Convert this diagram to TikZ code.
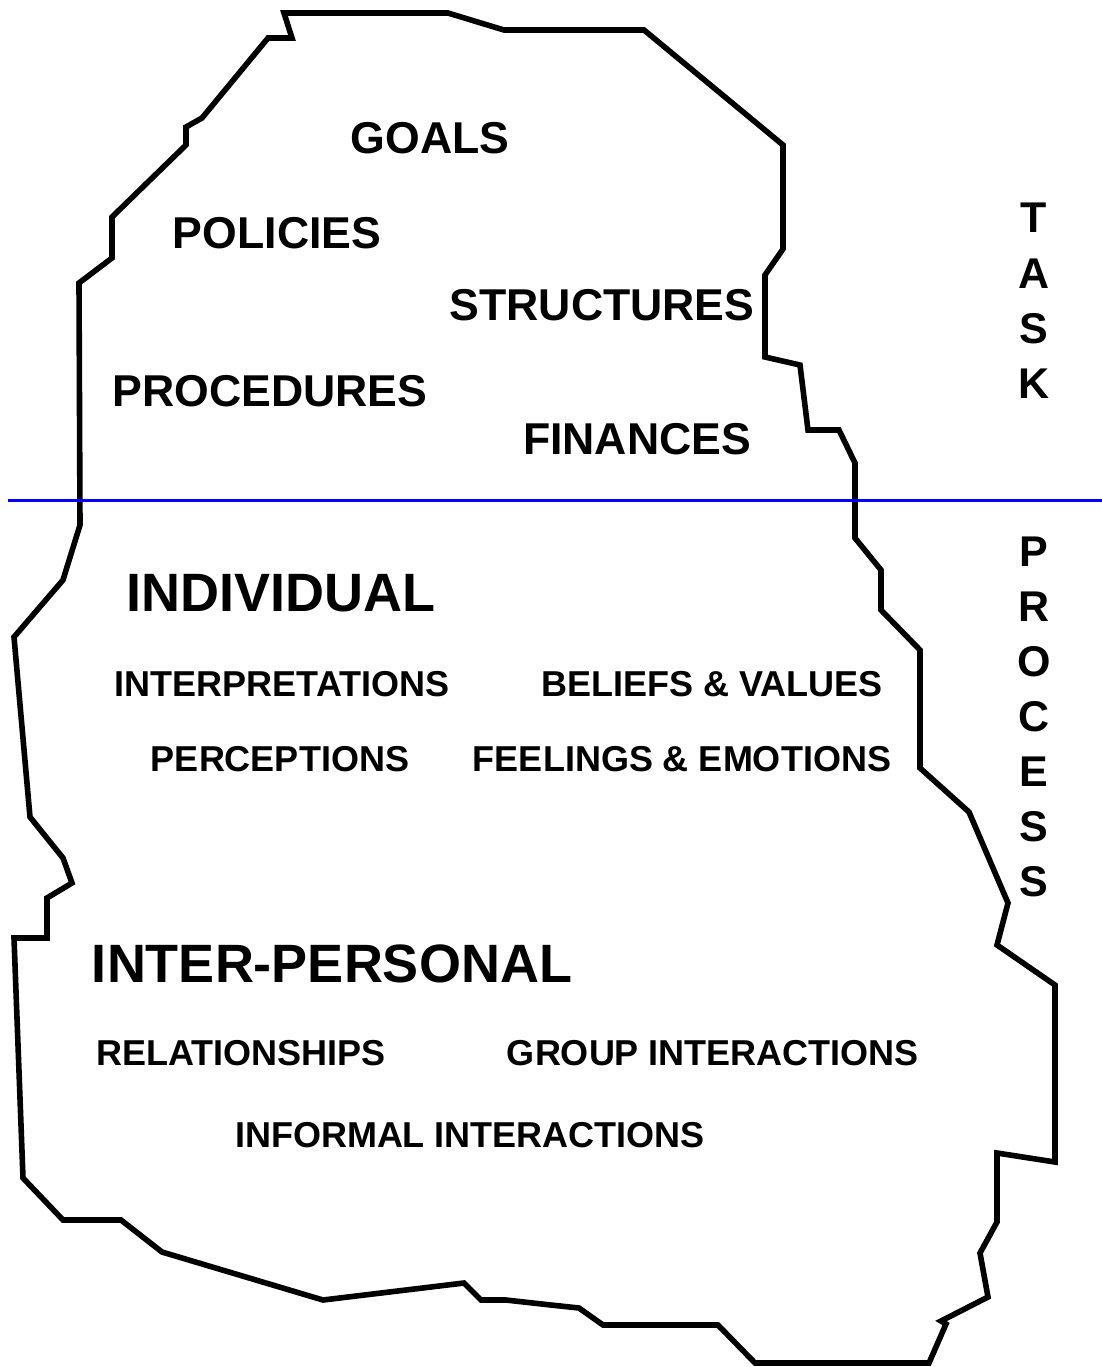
\documentclass[tikz,border=0pt]{standalone}
\usepackage{fontspec}
\setmainfont{Liberation Sans}
\usetikzlibrary{calc}

\tikzset{
  small/.style={font=\fontsize{22.3}{26}\selectfont\bfseries, inner sep=0pt},
  big/.style={font=\fontsize{27}{32}\selectfont\bfseries, inner sep=0pt},
  tiny/.style={font=\fontsize{18}{21}\selectfont\bfseries, inner sep=0pt},
  side/.style={align=center, inner sep=0pt}
}

\begin{document}
\begin{tikzpicture}[x=0.5pt, y=-0.5pt]
    \useasboundingbox (0,0) rectangle (1102,1367);

    % the iceberg
    \draw [line width=2.8pt] (284,13) -- (448,13) -- (504,30) -- (644,30) -- (783,145) -- (783,249)
      -- (765,275) -- (765,357) -- (800,365) -- (808,430) -- (839,430) -- (855,463) -- (855,538)
      -- (881,570) -- (881,610) -- (920,650) -- (920,768) -- (969,812) -- (1008,903) -- (997,945)
      -- (1055,985) -- (1055,1162) -- (997,1153) -- (997,1222) -- (980,1253) -- (988,1297)
      -- (941,1321) -- (946,1324) -- (929,1363) -- (755,1363) -- (718,1325) -- (603,1325)
      -- (579,1308) -- (551,1305) -- (506,1300) -- (481,1300) -- (464,1283) -- (323,1300)
      -- (162,1252) -- (121,1220) -- (63,1220) -- (23,1178) -- (14,938) -- (47,938) -- (47,898)
      -- (72,883) -- (63,858) -- (30,817) -- (14,637) -- (63,580) -- (80,525) -- (79,283)
      -- (112,258) -- (112,217) -- (186,145) -- (186,127) -- (202,118) -- (268,38) -- (292,38) -- cycle;

    % water line
    \coordinate (wl) at (8,500);
    \coordinate (wr) at (1102,500);
    \draw [color=blue, line width=1.5pt] (wl) -- (wr);

    % task
    \node [small] (goals) at (430,138) {GOALS};
    \node [small] (policies) at (277,233) {POLICIES};
    \node [small] (structures) at (602,305) {STRUCTURES};
    \node [small] (procedures) at (270,391) {PROCEDURES};
    \node [small] (finances) at (637,439) {FINANCES};

    % process
    \node [big] (individual) at (281,593) {INDIVIDUAL};
    \node [tiny] (interpretations) at (282,684) {INTERPRETATIONS};
    \node [tiny] (beliefs) at (712,684) {BELIEFS \& VALUES};
    \node [tiny] (perceptions) at (280,759) {PERCEPTIONS};
    \node [tiny] (feelings) at (682,759) {FEELINGS \& EMOTIONS};
    \node [big] (interpersonal) at (332,964) {INTER-PERSONAL};
    \node [tiny] (relationships) at (241,1053) {RELATIONSHIPS};
    \node [tiny] (group) at (713,1053) {GROUP INTERACTIONS};
    \node [tiny] (informal) at (470,1135) {INFORMAL INTERACTIONS};

    % side labels
    \node [side, font=\fontsize{21.5}{27.7}\selectfont\bfseries] (task) at (1034,301) {T\\A\\S\\K};
    \node [side, font=\fontsize{21.5}{27.5}\selectfont\bfseries] (process) at (1034,717) {P\\R\\O\\C\\E\\S\\S};
  \end{tikzpicture}
\end{document}
